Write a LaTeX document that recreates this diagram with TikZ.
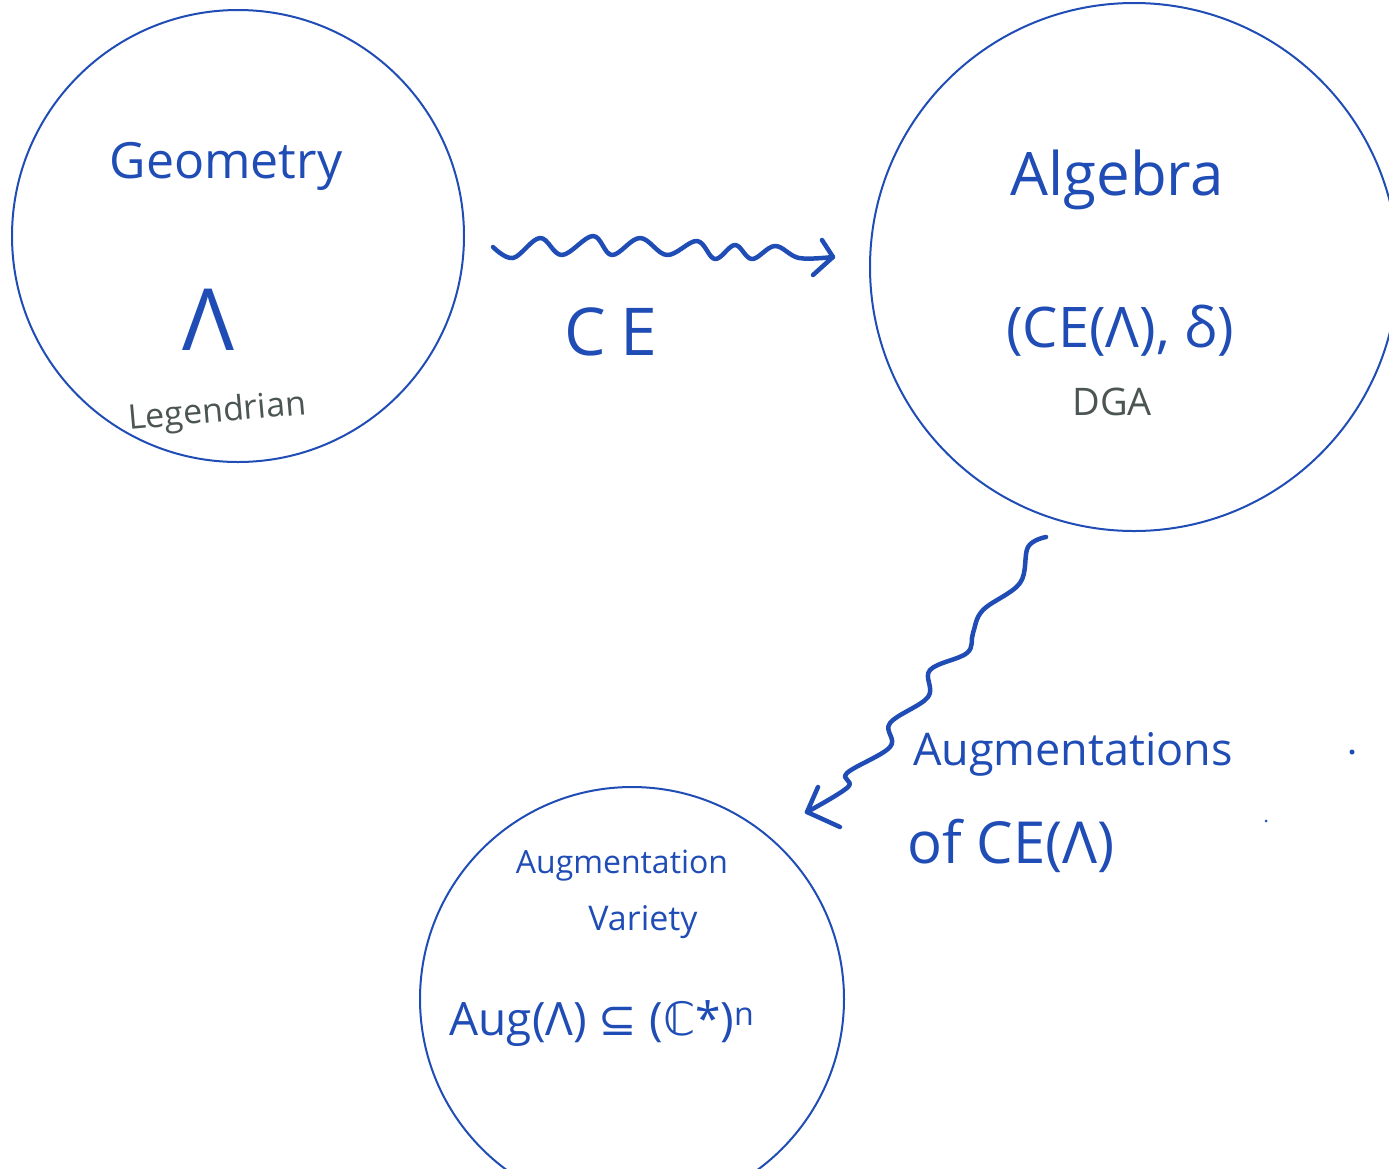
\documentclass[tikz,border=0pt]{standalone}
\usepackage{fontspec}
\setmainfont{Open Sans}
\newfontfamily\symf{DejaVu Sans}
\definecolor{ink}{HTML}{1F4CB5}
\definecolor{greyink}{HTML}{4B5553}
\newcommand{\fs}[1]{\fontsize{#1}{#1}\selectfont}
\begin{document}
\begin{tikzpicture}[x=1pt,y=-1pt]
\tikzset{
  bubble/.style={circle, draw=ink, line width=2pt, inner sep=0pt},
  wig/.style={draw=ink, line width=4.5pt, line cap=round, line join=round},
  lbl/.style={text=ink, inner sep=0pt, anchor=base},
  sublbl/.style={text=greyink, inner sep=0pt, anchor=base},
  speck/.style={circle, fill=ink, inner sep=0pt},
}
\useasboundingbox (0,0) rectangle (1389,1168);
\clip (0,0) rectangle (1389,1168);
% circles
\node[bubble, minimum size=452pt] (geo) at (238,236) {};
\node[bubble, minimum size=528pt] (alg) at (1134,267) {};
\node[bubble, minimum size=424pt] (aug) at (632,999) {};
% texts
\node[lbl, font=\fs{50}] (tgeo) at (226,178) {Geometry};
\node[lbl, font=\fs{86}] (tlam) at (208,350) {Λ};
\node[sublbl, font=\fs{34}, rotate=5] (tleg) at (218,422) {Legendrian};
\node[lbl, font=\fs{66}] (tce) at (611,355) {C\hspace{14pt}E};
\node[lbl, font=\fs{60}] (talg) at (1117,195) {Algebra};
\node[lbl, font=\fs{56}] (tdga) at (1120,347) {(CE(Λ), δ)};
\node[sublbl, font=\fs{38}] (tdgal) at (1112,415) {DGA};
\node[lbl, font=\fs{45}] (taugs) at (1073,765) {Augmentations};
\node[lbl, font=\fs{58}] (tof) at (1011,863) {of CE(Λ)};
\node[lbl, font=\fs{32}] (taugv) at (622,873) {Augmentation};
\node[lbl, font=\fs{34}] (tvar) at (643,930) {Variety};
\node[lbl, font=\fs{46}] (tform) at (602,1035) {Aug(Λ) {\symf ⊆} ({\symf ℂ}*)\textsuperscript{n}};
% specks
\node[speck, minimum size=5pt] (d1) at (1352,752) {};
\node[speck, minimum size=3pt] (d2) at (1266,821) {};
% wavy arrow CE
\coordinate (s1) at (493,247);
\coordinate (e1) at (833,257);
\coordinate (h1a) at (822,240);
\coordinate (h1b) at (813,275);
\draw[wig] plot[smooth, tension=0.6] coordinates {(s1) (513,258) (540,238) (562,255) (593,236) (612,255) (640,238) (667,255) (697,241) (715,259) (735,245) (752,259) (775,246) (799,258) (e1)};
\draw[wig] (h1a) -- (e1) -- (h1b);
% wavy arrow Augmentations
\coordinate (s2) at (1046,537);
\coordinate (e2) at (807,812);
\coordinate (h2a) at (818,787);
\coordinate (h2b) at (840,827);
\draw[wig] plot[smooth, tension=0.6] coordinates {(s2) (1028,547) (1020,583) (983,610) (973,633) (967,653) (930,670) (928,697) (890,723) (890,747) (847,773) (848,787) (e2)};
\draw[wig] (h2a) -- (e2) -- (h2b);
\end{tikzpicture}
\end{document}
